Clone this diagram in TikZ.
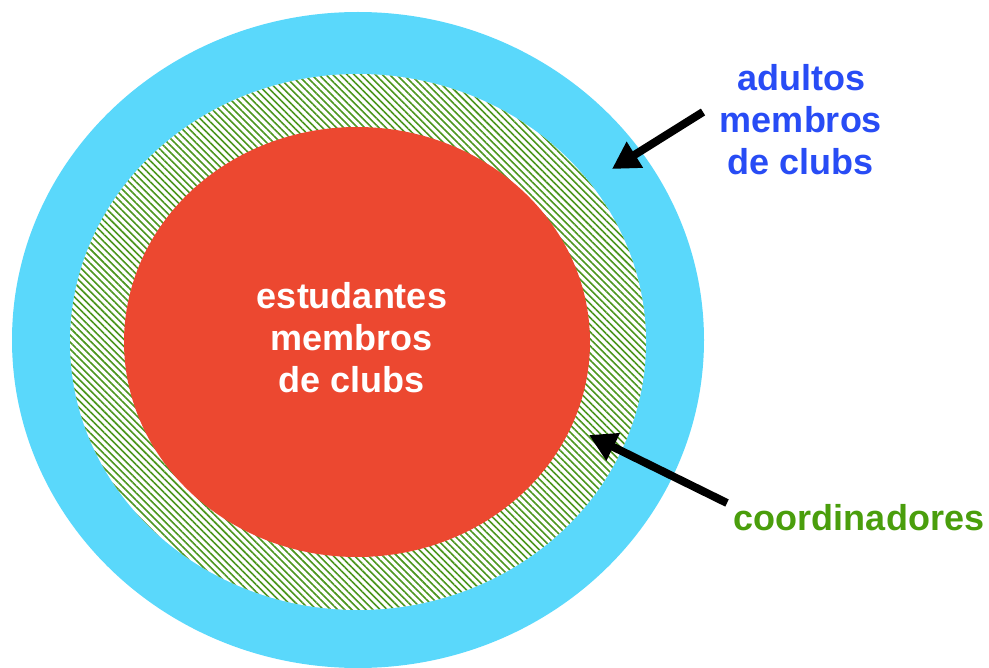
\documentclass[tikz,border=0pt]{standalone}
\usepackage{fontspec}
\setmainfont{Liberation Sans}
\usetikzlibrary{arrows.meta,patterns.meta}
\definecolor{skyblue}{RGB}{90,216,251}
\definecolor{tomato}{RGB}{236,72,48}
\definecolor{labelblue}{RGB}{40,76,245}
\definecolor{labelgreen}{RGB}{74,158,12}
\definecolor{hatchgreen}{RGB}{76,150,30}
\tikzset{
  biglabel/.style={font=\fontsize{36}{42}\selectfont\bfseries, align=center, inner sep=0pt},
  pointer/.style={line width=8pt, -{Triangle[length=27pt,width=29pt]}}
}
\begin{document}
\begin{tikzpicture}[x=1pt,y=-1pt]
\useasboundingbox (0,0) rectangle (989,668);

% Define points
\coordinate (C) at (358,340);
\coordinate (A1) at (703,112);
\coordinate (A2) at (612,169);
\coordinate (K1) at (727,503);
\coordinate (K2) at (589,435);

% Draw ellipses
\fill[skyblue] (C) ellipse [x radius=346pt, y radius=328pt];
\fill[white] (358,342) ellipse [x radius=288pt, y radius=268pt];
\fill[pattern={Lines[angle=-45,distance=5pt,line width=1.6pt]}, pattern color=hatchgreen] (358,342) ellipse [x radius=288pt, y radius=268pt];
\fill[tomato] (357,342) ellipse [x radius=233pt, y radius=215pt];

% Labels
\node[biglabel, text=white] (students) at (352,338) {estudantes\\membros\\de clubs};
\node[biglabel, text=labelblue] (adults) at (801,120) {adultos\\membros\\de clubs};
\node[biglabel, text=labelgreen, anchor=base] (coords) at (859,530) {coordinadores};

% Arrows
\draw[pointer] (A1) -- (A2);
\draw[pointer] (K1) -- (K2);

\end{tikzpicture}
\end{document}
